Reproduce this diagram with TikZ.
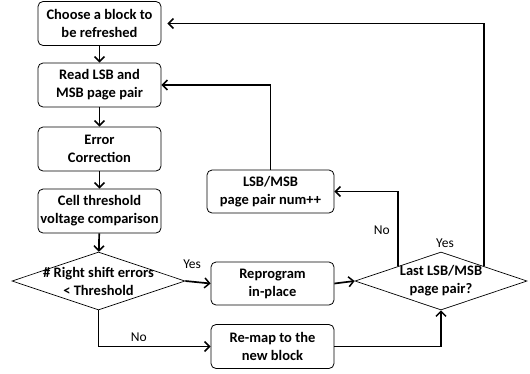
\documentclass[tikz,border=0pt]{standalone}
\usepackage{fontspec}
\setmainfont{Carlito}
\usetikzlibrary{arrows.meta}
\usetikzlibrary{shapes.geometric}
\tikzset{>={Straight Barb[length=5pt,width=10pt,line width=1.5pt]}}
\tikzset{
	stepbox/.style={draw,line width=0.8pt,rounded corners=5pt,minimum width=123pt,minimum height=44pt,align=center,inner sep=0pt,font=\fontsize{14.5}{18}\selectfont\bfseries},
	decision/.style={draw,line width=0.7pt,diamond,minimum width=173pt,minimum height=58pt,inner sep=0pt},
	dtext/.style={align=center,font=\fontsize{14.5}{18}\selectfont\bfseries},
	conn/.style={line width=1.7pt,->},
	lbl/.style={font=\fontsize{13.5}{15}\selectfont}
}

\begin{document}
\begin{tikzpicture}[x=1pt,y=-1pt]
			\useasboundingbox (0,0) rectangle (530,373);
			% left column
			\node[stepbox] (choose) at (99.5,23.5) {Choose a block to\\be refreshed};
			\node[stepbox] (read) at (99.5,85) {Read LSB and\\MSB page pair};
			\node[stepbox] (ecc) at (99.5,149) {Error\\Correction};
			\node[stepbox] (cell) at (99.5,211) {Cell threshold\\voltage comparison};
			\node[decision] (thr) at (98.5,281) {};
			\node[dtext] (thrtext) at (thr) {\# Right shift errors\\< Threshold};
			
			% middle column
			\node[stepbox,minimum width=127pt,minimum height=43pt] (lsb) at (270.5,191.5) {LSB/MSB\\page pair num++};
			\node[stepbox,minimum height=43pt] (reprog) at (272.5,283.5) {Reprogram\\in-place};
			\node[stepbox] (remap) at (272.5,346.5) {Re-map to the\\new block};
			
			\node[decision,minimum width=172pt] (last) at (441,281) {};
			\node[dtext] (lasttext) at (last) {Last LSB/MSB\\page pair?};
			
			\draw[conn] (choose)--(read);
			\draw[conn] (read)--(ecc);
			\draw[conn] (ecc)--(cell);
			\draw[conn] (cell)--(thr);
			
			\draw[conn] (thr.east)--(reprog.west) node[lbl,pos=0.27,above=9pt] (yes1) {Yes};
			\draw[conn] (thr.south) |- (remap.west) node[lbl,pos=0.68,above=1pt] (no1) {No};
			\draw[conn] (reprog.east)--(last.west);
			\draw[conn] (remap.east) -| (last.south);
			
			\draw[conn] (last.north west) |- (lsb.east) node[lbl,pos=0.24,left=4pt] (no2) {No};
			\draw[conn] (lsb.north) |- (read.east);
			\draw[conn,shorten >=6pt] (last.north east) |- (choose.east);
			\node[lbl,above=1pt,xshift=4pt] (yes2) at (last.north) {Yes};
			
		\end{tikzpicture}
\end{document}
